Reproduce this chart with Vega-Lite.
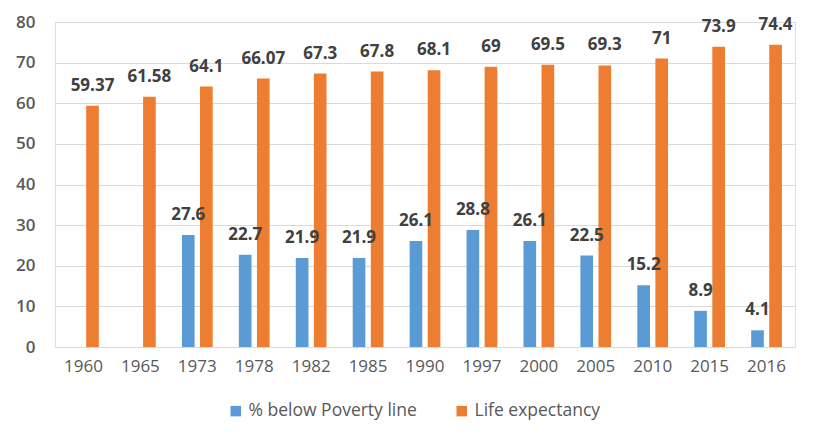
{
  "$schema": "https://vega.github.io/schema/vega-lite/v6.json",
  "width": 740,
  "height": 325,
  "autosize": {"type": "none"},
  "padding": {"left": 55, "top": 22, "right": 29, "bottom": 95},
  "background": "white",
  "data": {
    "values": [
      {"year": "1960", "series": "Life expectancy", "value": 59.37, "label": "59.37"},
      {"year": "1965", "series": "Life expectancy", "value": 61.58, "label": "61.58"},
      {"year": "1973", "series": "% below Poverty line", "value": 27.6, "label": "27.6"},
      {"year": "1973", "series": "Life expectancy", "value": 64.1, "label": "64.1"},
      {"year": "1978", "series": "% below Poverty line", "value": 22.7, "label": "22.7"},
      {"year": "1978", "series": "Life expectancy", "value": 66.07, "label": "66.07"},
      {"year": "1982", "series": "% below Poverty line", "value": 21.9, "label": "21.9"},
      {"year": "1982", "series": "Life expectancy", "value": 67.3, "label": "67.3"},
      {"year": "1985", "series": "% below Poverty line", "value": 21.9, "label": "21.9"},
      {"year": "1985", "series": "Life expectancy", "value": 67.8, "label": "67.8"},
      {"year": "1990", "series": "% below Poverty line", "value": 26.1, "label": "26.1"},
      {"year": "1990", "series": "Life expectancy", "value": 68.1, "label": "68.1"},
      {"year": "1997", "series": "% below Poverty line", "value": 28.8, "label": "28.8"},
      {"year": "1997", "series": "Life expectancy", "value": 69, "label": "69"},
      {"year": "2000", "series": "% below Poverty line", "value": 26.1, "label": "26.1"},
      {"year": "2000", "series": "Life expectancy", "value": 69.5, "label": "69.5"},
      {"year": "2005", "series": "% below Poverty line", "value": 22.5, "label": "22.5"},
      {"year": "2005", "series": "Life expectancy", "value": 69.3, "label": "69.3"},
      {"year": "2010", "series": "% below Poverty line", "value": 15.2, "label": "15.2"},
      {"year": "2010", "series": "Life expectancy", "value": 71, "label": "71"},
      {"year": "2015", "series": "% below Poverty line", "value": 8.9, "label": "8.9"},
      {"year": "2015", "series": "Life expectancy", "value": 73.9, "label": "73.9"},
      {"year": "2016", "series": "% below Poverty line", "value": 4.1, "label": "4.1"},
      {"year": "2016", "series": "Life expectancy", "value": 74.4, "label": "74.4"}
    ]
  },
  "encoding": {
    "x": {
      "field": "year", "type": "nominal", "sort": null,
      "scale": {"paddingInner": 0.46, "paddingOuter": 0.23},
      "axis": {
        "title": null, "labelAngle": 0, "ticks": false, "domain": false,
        "labelFont": "Open Sans", "labelFontSize": 17, "labelColor": "#595959",
        "labelPadding": 11
      }
    },
    "xOffset": {
      "field": "series", "type": "nominal",
      "scale": {"domain": ["% below Poverty line", "Life expectancy"], "paddingInner": 0.3}
    },
    "y": {
      "field": "value", "type": "quantitative",
      "scale": {"domain": [0, 80], "nice": false},
      "axis": {
        "title": null, "values": [0, 10, 20, 30, 40, 50, 60, 70, 80],
        "ticks": false, "domain": false, "grid": true,
        "gridColor": "#d9d9d9", "gridWidth": 1,
        "labelFont": "Open Sans", "labelFontSize": 17, "labelFontWeight": 600,
        "labelColor": "#595959", "labelPadding": 20
      }
    }
  },
  "layer": [
    {
      "mark": {"type": "bar"},
      "encoding": {
        "color": {
          "field": "series", "type": "nominal",
          "scale": {"domain": ["% below Poverty line", "Life expectancy"], "range": ["#5B9BD5", "#ED7D31"]},
          "legend": {
            "title": null, "orient": "none", "direction": "horizontal",
            "legendX": 172, "legendY": 380,
            "symbolType": "square", "symbolSize": 110, "symbolStrokeWidth": 0,
            "labelFont": "Open Sans", "labelFontSize": 17.5, "labelColor": "#595959",
            "labelLimit": 400, "columnPadding": 36, "labelOffset": 4
          }
        }
      }
    },
    {
      "mark": {"type": "text", "baseline": "bottom", "dy": -11, "font": "Open Sans", "fontSize": 17, "fontWeight": "bold", "color": "#404040"},
      "encoding": {
        "text": {"field": "label"}
      }
    }
  ]
}
